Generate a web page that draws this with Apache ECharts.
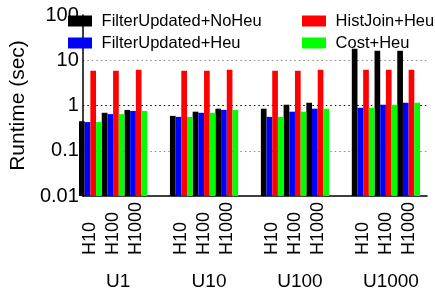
<!DOCTYPE html>
<html>
<head>
    <meta charset="UTF-8">
    <title>Runtime</title>
    <script src="https://cdn.jsdelivr.net/npm/echarts@6/dist/echarts.min.js"></script>
    <style>
        html, body { margin: 0; padding: 0; background: #fff; }
        #chart { width: 435px; height: 294px; }
    </style>
</head>
<body>
    <div id="chart"></div>
    <script>
        // data
        const groups = ['U1', 'U10', 'U100', 'U1000'];
        const hLabels = ['H10', 'H100', 'H1000'];
        const seriesNames = ['FilterUpdated+NoHeu', 'FilterUpdated+Heu', 'HistJoin+Heu', 'Cost+Heu'];
        const seriesColors = ['#000000', '#0000ff', '#ff0000', '#00ff00'];
        const noHeu = [0.45, 0.69, 0.80, 0.59, 0.73, 0.85, 0.85, 1.04, 1.15, 17.9, 16.2, 16.2];
        const heu = [0.43, 0.645, 0.76, 0.56, 0.69, 0.80, 0.56, 0.73, 0.85, 0.89, 1.04, 1.15];
        const histJoin = [5.86, 5.86, 6.16, 5.86, 5.86, 6.16, 5.86, 5.86, 6.16, 6.16, 6.16, 6.16];
        const cost = [0.43, 0.645, 0.76, 0.56, 0.69, 0.80, 0.56, 0.73, 0.85, 0.89, 1.04, 1.15];
        const yTicks = [0.01, 0.1, 1, 10, 100];

        const font = 'Liberation Sans';
        const allValues = [noHeu, heu, histJoin, cost];

        // categories with an empty slot between U groups
        const slots = [];
        const uSlots = [];
        groups.forEach((g, gi) => {
            if (gi > 0) { slots.push(''); uSlots.push(''); }
            hLabels.forEach((h, hi) => {
                slots.push(h);
                uSlots.push(hi === 1 ? g : '');
            });
        });

        function toSlots(arr) {
            const out = [];
            groups.forEach((g, gi) => {
                if (gi > 0) out.push('-');
                hLabels.forEach((h, hi) => out.push(arr[gi * hLabels.length + hi]));
            });
            return out;
        }

        const yBase = {
            type: 'log', logBase: 10, min: yTicks[0], max: yTicks[yTicks.length - 1]
        };

        const chart = echarts.init(document.getElementById('chart'), null, { renderer: 'canvas' });
        chart.setOption({
            animation: false,
            textStyle: { fontFamily: font },
            grid: [
                { left: 64.5, right: 8, top: 15, bottom: 98 },
                { left: 79, right: 15, top: 15, bottom: 98 }
            ],
            legend: [
                {
                    data: seriesNames.slice(0, 2), orient: 'vertical', left: 63, top: 7,
                    icon: 'rect', itemWidth: 24, itemHeight: 11, itemGap: 4,
                    formatter: n => ' ' + n,
                    textStyle: { fontFamily: font, fontSize: 16.5, color: '#000', lineHeight: 18 }
                },
                {
                    data: seriesNames.slice(2), orient: 'vertical', left: 297, top: 7,
                    icon: 'rect', itemWidth: 24, itemHeight: 11, itemGap: 4,
                    formatter: n => ' ' + n,
                    textStyle: { fontFamily: font, fontSize: 16.5, color: '#000', lineHeight: 18 }
                }
            ],
            xAxis: [
                {
                    gridIndex: 0, type: 'category', data: [''],
                    axisLine: { lineStyle: { color: '#000', width: 1.5 } },
                    axisTick: { show: false }, axisLabel: { show: false }
                },
                {
                    gridIndex: 1, type: 'category', data: slots,
                    axisLine: { show: false }, axisTick: { show: false },
                    axisLabel: {
                        interval: 0, rotate: 90, margin: 59, align: 'left',
                        fontFamily: font, fontSize: 18, color: '#000'
                    }
                },
                {
                    gridIndex: 1, type: 'category', data: uSlots, position: 'bottom',
                    axisLine: { show: false }, axisTick: { show: false },
                    axisLabel: {
                        interval: 0, margin: 76, padding: [0, 0, 0, 10],
                        fontFamily: font, fontSize: 19, color: '#000'
                    }
                }
            ],
            yAxis: [
                Object.assign({}, yBase, {
                    gridIndex: 0,
                    name: 'Runtime (sec)', nameLocation: 'middle', nameGap: 40,
                    nameTextStyle: { fontFamily: font, fontSize: 21, color: '#000' },
                    axisLine: { show: true, lineStyle: { color: '#000', width: 1.5 } },
                    axisTick: { show: false },
                    axisLabel: {
                        margin: 4, fontFamily: font, fontSize: 20, color: '#000',
                        formatter: v => String(+v.toPrecision(3))
                    },
                    splitLine: {
                        show: true,
                        lineStyle: { color: ['transparent', '#888', '#000', '#888', 'transparent'], type: [1.5, 3], width: 1 }
                    }
                }),
                Object.assign({}, yBase, {
                    gridIndex: 1, show: false, startValue: yTicks[0]
                })
            ],
            series: seriesNames.map((name, i) => ({
                name: name, type: 'bar', xAxisIndex: 1, yAxisIndex: 1,
                data: toSlots(allValues[i]),
                barGap: '0%', barCategoryGap: '0%',
                itemStyle: { color: seriesColors[i] }
            }))
        });
    </script>
</body>
</html>
